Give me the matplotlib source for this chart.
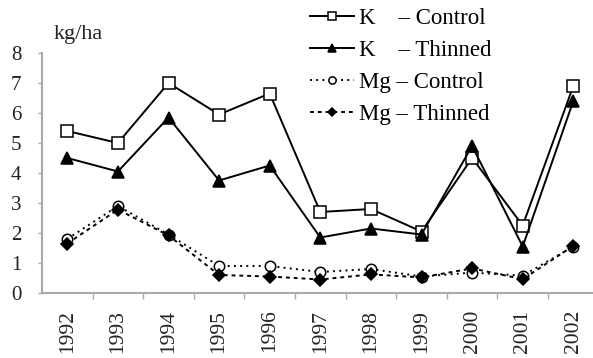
import matplotlib
matplotlib.use("Agg")
import matplotlib.pyplot as plt

years = ["1992", "1993", "1994", "1995", "1996", "1997",
         "1998", "1999", "2000", "2001", "2002"]
k_control = [5.4, 5.0, 7.0, 5.95, 6.65, 2.7, 2.8, 2.05, 4.5, 2.25, 6.9]
k_thinned = [4.5, 4.05, 5.85, 3.75, 4.25, 1.85, 2.15, 1.95, 4.9, 1.55, 6.4]
mg_control = [1.8, 2.9, 1.95, 0.9, 0.9, 0.7, 0.8, 0.55, 0.68, 0.58, 1.55]
mg_thinned = [1.65, 2.78, 1.92, 0.6, 0.55, 0.45, 0.62, 0.52, 0.82, 0.46, 1.57]
y_ticks = [0, 1, 2, 3, 4, 5, 6, 7, 8]

plt.rcParams["font.family"] = ["Liberation Serif", "DejaVu Serif"]

W, H = 593, 358
fig = plt.figure(figsize=(W / 100, H / 100), dpi=100)
ax = fig.add_axes([42 / W, (H - 293) / H, 556.6 / W, 240 / H])

x = list(range(len(years)))
series = [
    (k_control, "K    \u2013 Control", dict(ls="-", marker="s", mfc="white", ms=8.5)),
    (k_thinned, "K    \u2013 Thinned", dict(ls="-", marker="^", mfc="black", ms=8.5)),
    (mg_control, "Mg \u2013 Control", dict(ls=(0, (1, 2.2)), marker="o", mfc="white", ms=7.5)),
    (mg_thinned, "Mg \u2013 Thinned", dict(ls=(0, (2, 2)), marker="D", mfc="black", ms=6.5)),
]
for vals, label, style in series:
    ax.plot(x, vals, color="black", lw=1.4, mec="black", mew=1.1,
            label=label, clip_on=False, **style)

ax.set_xlim(-0.5, len(years) - 0.5)
ax.set_ylim(0, 8)
ax.set_yticks(y_ticks)
ax.set_yticklabels([str(t) for t in y_ticks], fontsize=15, color="#222222")
ax.set_xticks(x)
ax.set_xticklabels(years, rotation=90, fontsize=15.5, color="#222222")
ax.set_xticks([i - 0.5 for i in range(1, len(years) + 1)], minor=True)
ax.tick_params(axis="x", which="major", length=0, pad=12)
ax.tick_params(axis="x", which="minor", length=4, color="#aaaaaa", width=1)
ax.tick_params(axis="y", length=3, color="#aaaaaa", width=1, pad=12)

for side in ("top", "right"):
    ax.spines[side].set_visible(False)
for side in ("left", "bottom"):
    ax.spines[side].set_color("#aaaaaa")
    ax.spines[side].set_linewidth(1.5)

fig.text(54 / W, 1 - 39 / H, "kg/ha", fontsize=16, color="#222222")

fig.legend(loc="upper left", bbox_to_anchor=(308 / W, 1 - 6 / H),
           frameon=False, fontsize=16.5, handlelength=1.92, handletextpad=0.22,
           labelspacing=0.48, markerscale=0.7, borderaxespad=0, borderpad=0.1)

fig.savefig("out.png", dpi=100)
